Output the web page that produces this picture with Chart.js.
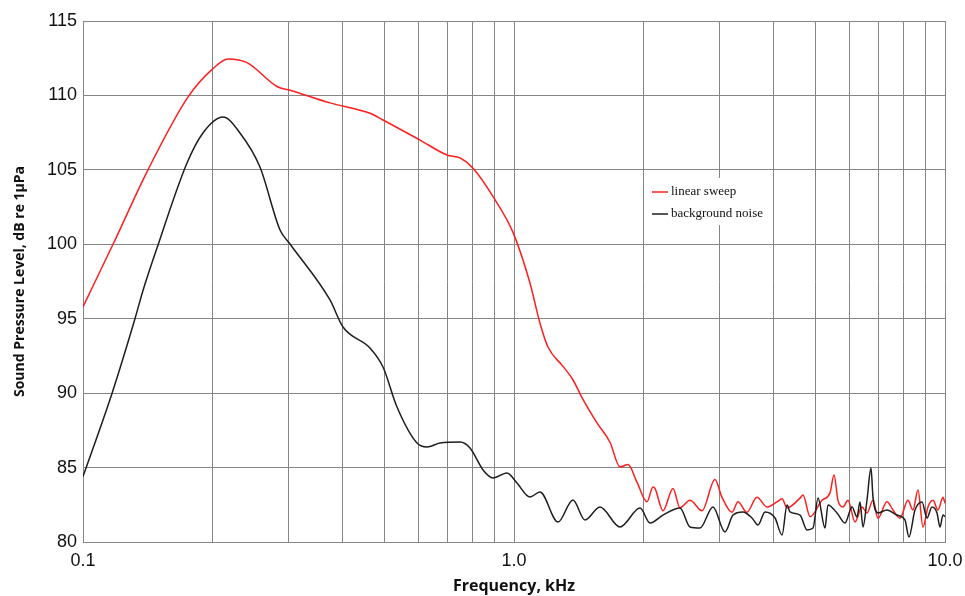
<!DOCTYPE html>
<html>
<head>
<meta charset="utf-8">
<script src="https://cdn.jsdelivr.net/npm/chart.js@4.4.1/dist/chart.umd.min.js"></script>
<style>
  body { margin: 0; background: #fff; }
</style>
</head>
<body>
<canvas id="spl" width="965" height="596"></canvas>
<script>
// frequencies in kHz, levels in dB re 1uPa
var sweepFreq = [0.100, 0.1174, 0.1415, 0.1753, 0.2002, 0.2170, 0.2402, 0.2819, 0.3022, 0.3742,
  0.4634, 0.4967, 0.6053, 0.6990, 0.7494, 0.8034, 0.8941, 0.9947, 1.089, 1.149,
  1.199, 1.299, 1.370, 1.438, 1.558, 1.670, 1.762, 1.839, 1.930, 2.035,
  2.101, 2.124, 2.217, 2.338, 2.427, 2.561, 2.730, 2.926, 3.038, 3.205,
  3.309, 3.471, 3.662, 3.864, 4.076, 4.187, 4.300, 4.610, 4.684, 4.863,
  5.183, 5.410, 5.527, 5.646, 5.799, 5.956, 6.183, 6.418, 6.592, 6.806,
  6.990, 7.334, 7.574, 7.862, 8.205, 8.427, 8.657, 8.891, 9.131, 9.380,
  9.633, 9.894, 10.0];
var sweepLevel = [95.8, 100.0, 105.0, 109.9, 111.8, 112.45, 112.2, 110.6, 110.35, 109.5,
  108.8, 108.35, 107.0, 106.0, 105.8, 105.1, 103.2, 100.8, 97.4, 94.7,
  93.1, 91.8, 90.9, 89.7, 88.0, 86.7, 85.05, 85.2, 84.0, 82.7,
  83.7, 83.6, 82.1, 83.6, 82.3, 82.8, 82.1, 84.2, 83.0, 82.0,
  82.7, 82.0, 83.0, 82.35, 82.7, 82.9, 82.3, 82.95, 83.15, 81.7,
  82.8, 83.3, 84.5, 82.8, 82.35, 82.8, 81.35, 82.35, 81.95, 82.8,
  81.6, 82.7, 82.15, 81.6, 82.8, 82.15, 83.5, 81.0, 82.35, 82.8,
  82.15, 83.0, 82.6];

var noiseFreq = [0.100, 0.1168, 0.1320, 0.1378, 0.1485, 0.1743, 0.1898, 0.2113, 0.2313, 0.2574,
  0.2865, 0.3022, 0.3742, 0.4011, 0.4634, 0.4967, 0.5352, 0.5956, 0.6284, 0.6735,
  0.7494, 0.7906, 0.8476, 0.8941, 0.9634, 1.016, 1.089, 1.149, 1.265, 1.370,
  1.461, 1.583, 1.762, 1.961, 2.068, 2.217, 2.427, 2.561, 2.701, 2.895,
  3.087, 3.222, 3.398, 3.566, 3.682, 3.823, 4.033, 4.187, 4.300, 4.370,
  4.610, 4.785, 4.941, 5.075, 5.267, 5.352, 5.616, 5.861, 6.085, 6.249,
  6.350, 6.452, 6.592, 6.734, 6.806, 6.990, 7.334, 7.737, 8.074, 8.249,
  8.518, 8.843, 9.082, 9.328, 9.581, 9.736, 9.894, 10.0];
var noiseLevel = [84.4, 90.0, 95.0, 96.9, 99.75, 105.46, 107.48, 108.55, 107.48, 105.19,
  100.96, 100.02, 96.26, 94.44, 93.03, 91.76, 89.07, 86.65, 86.38, 86.65,
  86.72, 86.32, 84.84, 84.30, 84.64, 83.96, 83.02, 83.36, 81.34, 82.82,
  81.48, 82.35, 81.01, 82.28, 81.28, 81.81, 82.28, 81.01, 80.94, 82.35,
  80.67, 81.81, 82.02, 81.61, 81.14, 82.02, 81.61, 80.47, 82.49, 82.02,
  81.81, 80.81, 80.94, 82.96, 80.94, 82.49, 81.95, 81.28, 82.35, 81.68,
  82.69, 81.01, 82.82, 84.97, 83.02, 81.95, 82.15, 81.81, 81.48, 80.34,
  82.15, 82.69, 81.61, 82.35, 81.95, 81.01, 81.81, 81.7];

// grid lines at every 1..9 multiple, labels only on decades
var xTickValues = [0.1, 0.2, 0.3, 0.4, 0.5, 0.6, 0.7, 0.8, 0.9,
  1, 2, 3, 4, 5, 6, 7, 8, 9, 10];
var xTickLabels = ['0.1', '', '', '', '', '', '', '', '',
  '1.0', '', '', '', '', '', '', '', '', '10.0'];

function toPoints(xs, ys) {
  return xs.map(function (x, i) { return { x: x, y: ys[i] }; });
}

// legend box sitting inside the plot, like the original
var insideLegend = {
  id: 'insideLegend',
  afterDraw: function (chart) {
    var ctx = chart.ctx;
    ctx.save();
    ctx.fillStyle = '#fff';
    ctx.fillRect(648, 178, 122, 47);
    ctx.font = '13px "Liberation Serif", "Times New Roman", serif';
    ctx.textBaseline = 'middle';
    chart.data.datasets.forEach(function (ds, i) {
      var y = 192 + i * 22;
      ctx.strokeStyle = ds.borderColor;
      ctx.lineWidth = 1.5;
      ctx.beginPath();
      ctx.moveTo(652, y);
      ctx.lineTo(668, y);
      ctx.stroke();
      ctx.fillStyle = '#111';
      ctx.fillText(ds.label, 671, y);
    });
    ctx.restore();
  }
};

var gridColor = '#858585';

var ctx = document.getElementById('spl').getContext('2d');
var splChart = new Chart(ctx, {
  type: 'line',
  data: {
    datasets: [{
      label: 'linear sweep',
      data: toPoints(sweepFreq, sweepLevel),
      borderColor: '#ff1e1e',
      borderWidth: 1.5,
      pointRadius: 0,
      cubicInterpolationMode: 'monotone',
      order: 2
    }, {
      label: 'background noise',
      data: toPoints(noiseFreq, noiseLevel),
      borderColor: '#1e1e1e',
      borderWidth: 1.5,
      pointRadius: 0,
      cubicInterpolationMode: 'monotone',
      order: 1
    }]
  },
  options: {
    responsive: false,
    animation: false,
    layout: { padding: { left: 0, right: 20, top: 21, bottom: 0 } },
    plugins: {
      legend: { display: false },
      tooltip: { enabled: false }
    },
    scales: {
      x: {
        type: 'logarithmic',
        min: 0.1,
        max: 10,
        afterBuildTicks: function (scale) {
          scale.ticks = xTickValues.map(function (v) { return { value: v }; });
        },
        afterFit: function (scale) {
          scale.height = 54;
          scale.paddingLeft = 0;
          scale.paddingRight = 0;
        },
        ticks: {
          autoSkip: false,
          maxRotation: 0,
          padding: 8,
          color: '#111',
          font: { family: '"Liberation Sans", Arial, sans-serif', size: 18 },
          callback: function (value, index) { return xTickLabels[index]; }
        },
        grid: { color: gridColor, lineWidth: 1, drawTicks: false },
        border: { color: gridColor },
        title: {
          display: true,
          text: 'Frequency, kHz',
          color: '#111',
          padding: { top: 2, bottom: 0 },
          font: { family: '"Open Sans", sans-serif', size: 16, weight: 'bold' }
        }
      },
      y: {
        min: 80,
        max: 115,
        afterFit: function (scale) {
          scale.width = 83;
          scale.paddingTop = 0;
          scale.paddingBottom = 0;
        },
        ticks: {
          stepSize: 5,
          padding: 6,
          color: '#111',
          font: { family: '"Liberation Sans", Arial, sans-serif', size: 18 }
        },
        grid: { color: gridColor, lineWidth: 1, drawTicks: false },
        border: { color: gridColor },
        title: {
          display: true,
          text: 'Sound Pressure Level, dB re 1μPa',
          color: '#111',
          padding: { top: 12, bottom: 0 },
          font: { family: '"Open Sans", sans-serif', size: 14, weight: 'bold' }
        }
      }
    }
  },
  plugins: [insideLegend]
});
</script>
</body>
</html>
